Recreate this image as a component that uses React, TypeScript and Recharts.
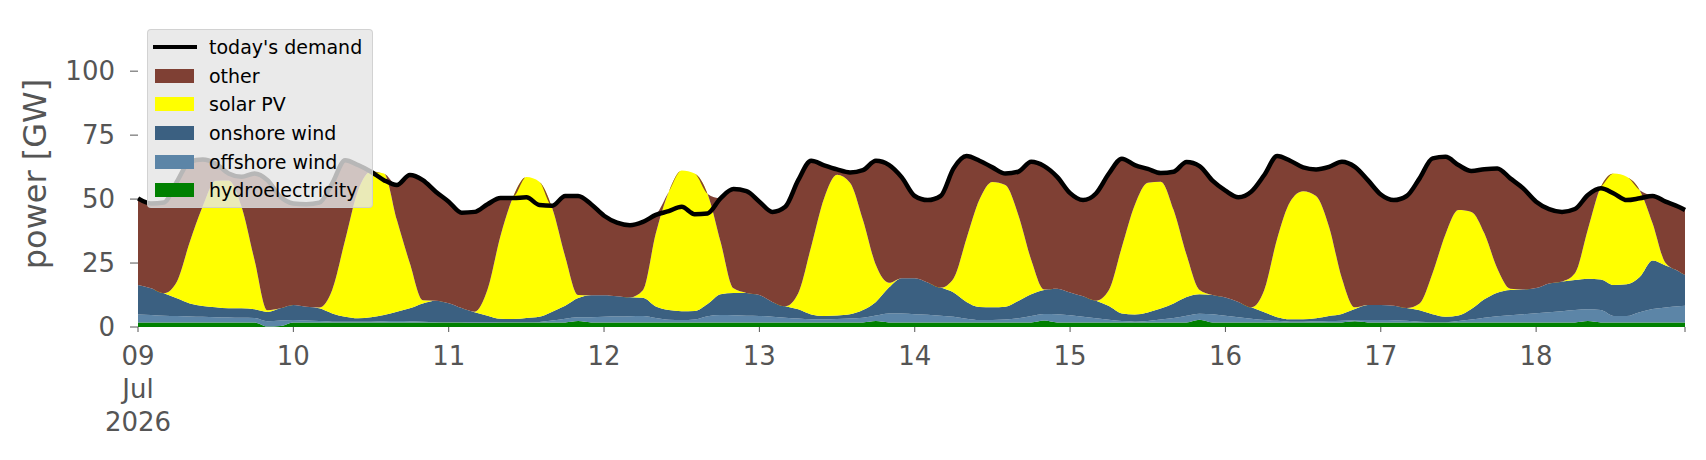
import { ComposedChart, Area, Line, XAxis, YAxis } from 'recharts'

// hourly timeline of 09-18 Jul 2026, sampled every two hours (last point 18 Jul 23:00)
const hours = [...Array.from({ length: 120 }, (_, i) => i * 2), 239]
const dayTicks = [0, 24, 48, 72, 96, 120, 144, 168, 192, 216, 239]
const dayLabels = [['09', 'Jul', '2026'], ['10'], ['11'], ['12'], ['13'], ['14'], ['15'], ['16'], ['17'], ['18'], []]
const yTicks = [0, 25, 50, 75, 100]

// GW
const demand = [
  50.3, 48.3, 48.7, 56.8, 64.6, 65.5, 63.9, 60.0, 58.7, 60.0, 57.4, 50.9,
  48.3, 48.0, 48.6, 56.1, 65.2, 63.3, 60.7, 57.4, 55.5, 59.4, 57.4, 52.9,
  49.0, 44.7, 45.0, 48.0, 50.4, 50.4, 50.7, 47.7, 47.4, 51.2, 51.2, 48.0,
  43.5, 40.8, 39.8, 41.1, 43.8, 45.3, 47.0, 44.1, 44.4, 50.3, 53.9, 53.1,
  49.0, 45.0, 47.0, 57.4, 65.0, 63.2, 61.6, 60.4, 61.3, 65.0, 63.4, 58.5,
  51.2, 49.6, 51.2, 62.0, 66.8, 65.0, 62.4, 60.0, 60.7, 64.6, 62.9, 58.7,
  52.3, 49.6, 52.2, 60.0, 65.8, 63.3, 61.8, 60.2, 60.7, 64.5, 62.9, 57.2,
  53.3, 50.7, 52.9, 59.4, 66.8, 65.0, 62.4, 61.6, 62.6, 64.6, 62.6, 57.4,
  51.8, 49.6, 51.2, 58.1, 65.9, 66.5, 63.3, 61.0, 61.7, 62.0, 58.1, 54.2,
  49.0, 46.1, 45.0, 46.1, 51.6, 54.2, 52.2, 49.6, 50.3, 51.2, 49.0, 47.0,
  45.7,
]

const hydro = [
  1.8, 1.8, 1.8, 1.8, 1.8, 1.8, 1.8, 1.8, 1.8, 1.8, 0.2, 0.4,
  1.8, 1.8, 1.8, 1.8, 1.8, 1.8, 1.8, 1.8, 1.8, 1.8, 1.8, 1.8,
  1.8, 1.8, 1.7, 1.7, 1.8, 1.8, 1.8, 1.8, 1.8, 1.8, 2.3, 1.8,
  1.8, 1.8, 1.8, 1.8, 1.8, 1.8, 1.8, 1.8, 1.8, 1.8, 1.8, 1.8,
  1.8, 1.8, 1.8, 1.8, 1.8, 1.8, 1.8, 1.8, 1.8, 2.3, 1.8, 1.8,
  1.8, 1.8, 1.8, 1.8, 1.8, 1.8, 1.8, 1.8, 1.8, 1.8, 2.5, 1.8,
  1.8, 1.8, 1.8, 1.8, 1.8, 1.8, 1.8, 1.8, 1.8, 1.8, 2.8, 1.8,
  1.8, 1.8, 1.8, 1.8, 1.8, 1.8, 1.8, 1.8, 1.8, 1.8, 2.2, 1.8,
  1.8, 1.8, 1.8, 1.8, 1.8, 1.8, 1.8, 1.8, 1.8, 1.8, 1.8, 1.8,
  1.8, 1.8, 1.8, 1.8, 2.3, 1.8, 1.8, 1.8, 1.8, 1.8, 1.8, 1.8,
  1.8,
]

const offshoreWind = [
  3.1, 2.9, 2.6, 2.5, 2.3, 2.2, 2.0, 1.9, 1.8, 1.7, 2.0, 2.1,
  0.9, 0.7, 0.5, 0.3, 0.3, 0.3, 0.3, 0.4, 0.5, 0.4, 0.3, 0.2,
  0.1, 0.1, 0.1, 0.1, 0.1, 0.1, 0.1, 0.2, 0.7, 1.4, 1.5, 2.0,
  2.2, 2.3, 2.4, 2.5, 1.7, 1.0, 0.9, 1.1, 2.4, 2.9, 2.8, 2.6,
  2.5, 2.2, 1.8, 1.5, 1.2, 1.2, 1.3, 1.5, 1.8, 2.2, 3.5, 3.5,
  3.2, 3.0, 2.6, 2.2, 1.4, 0.9, 0.9, 1.1, 1.6, 2.5, 2.6, 3.2,
  2.8, 2.2, 1.6, 1.0, 0.5, 0.3, 0.5, 1.1, 1.7, 2.6, 2.4, 3.2,
  2.6, 2.0, 1.4, 0.9, 0.6, 0.3, 0.3, 0.4, 0.5, 0.6, 0.4, 0.9,
  0.9, 0.8, 0.6, 0.3, 0.1, 0.1, 0.5, 1.1, 1.8, 2.4, 2.8, 3.2,
  3.6, 4.0, 4.4, 4.8, 4.6, 4.8, 2.5, 2.5, 4.0, 5.2, 5.8, 6.3,
  6.5,
]

const onshoreWind = [
  11.5, 10.4, 8.8, 6.9, 5.1, 4.2, 3.9, 3.6, 3.7, 3.4, 3.7, 4.8,
  5.9, 5.4, 5.0, 3.2, 1.9, 1.3, 1.7, 2.5, 3.7, 5.1, 7.1, 8.3,
  7.4, 5.5, 4.0, 2.6, 1.3, 1.2, 1.6, 2.0, 3.5, 5.1, 7.5, 8.6,
  8.4, 7.9, 7.4, 7.1, 4.5, 3.8, 3.5, 3.4, 4.8, 8.1, 8.7, 8.9,
  8.2, 5.8, 4.5, 3.6, 1.9, 1.3, 1.4, 1.7, 3.0, 5.3, 10.1, 13.8,
  14.1, 12.6, 11.0, 9.5, 6.6, 5.1, 5.0, 5.0, 6.8, 8.5, 9.4, 10.0,
  8.9, 8.0, 6.9, 5.4, 3.0, 2.8, 3.4, 4.3, 5.7, 7.3, 7.6, 7.5,
  7.1, 6.0, 4.5, 3.1, 1.4, 0.9, 0.9, 1.2, 2.0, 2.7, 4.4, 5.9,
  5.9, 5.7, 5.0, 4.4, 3.1, 2.1, 2.2, 4.1, 7.2, 9.2, 9.9, 9.7,
  9.8, 11.2, 11.6, 11.8, 12.0, 12.0, 12.1, 12.4, 13.7, 19.0, 16.4, 13.7,
  12.0,
]

const solarPV = [
  0, 0, 0, 6.5, 24.0, 39.0, 49.5, 50.0, 39.7, 19.3, 0.6, 0,
  0, 0, 0.3, 9.2, 30.0, 50.0, 57.0, 55.3, 35.8, 17.6, 1.3, 0,
  0, 0, 0.2, 10.3, 32.4, 48.0, 55.1, 52.8, 40.4, 19.2, 1.2, 0,
  0, 0, 0, 3.0, 28.6, 46.3, 55.0, 53.7, 43.0, 20.5, 1.8, 0,
  0, 0, 0, 6.3, 26.5, 46.0, 55.0, 51.4, 35.2, 14.4, 1.9, 0,
  0, 0, 0, 5.5, 24.8, 42.0, 49.0, 47.6, 33.6, 13.4, 0.2, 0,
  0, 0, 0, 6.3, 26.0, 42.8, 50.7, 49.6, 36.5, 16.4, 1.7, 0,
  0, 0, 0, 8.7, 30.8, 46.0, 50.1, 47.8, 34.9, 13.9, 0.7, 0,
  0, 0, 0, 2.7, 16.0, 32.3, 41.2, 38.0, 25.8, 9.5, 0.5, 0,
  0, 0, 0, 2.6, 19.3, 36.2, 43.6, 42.0, 34.0, 14.5, 1.0, 0,
  0,
]

const other = [
  33.9, 33.2, 35.5, 39.1, 31.4, 18.3, 6.7, 2.7, 11.7, 33.8, 50.9, 43.6,
  39.7, 40.1, 41.0, 41.6, 31.2, 9.9, 0, 0, 13.7, 34.5, 46.9, 42.6,
  39.8, 37.4, 39.1, 33.5, 15.1, 0, 0, 0, 1.0, 23.7, 38.7, 35.6,
  31.1, 28.8, 28.2, 26.7, 7.2, 0, 0, 0, 0, 17.0, 38.8, 39.8,
  36.5, 35.2, 38.9, 44.2, 33.6, 12.9, 2.1, 4.0, 19.5, 40.8, 46.1, 39.4,
  32.1, 32.2, 35.8, 43.0, 32.2, 15.2, 5.7, 4.5, 16.9, 38.4, 48.2, 43.7,
  38.8, 37.6, 41.9, 45.5, 34.5, 15.6, 5.4, 3.4, 15.0, 36.4, 48.4, 44.7,
  41.8, 40.9, 45.2, 44.9, 32.2, 16.0, 9.3, 10.4, 23.4, 45.6, 54.9, 48.8,
  43.2, 41.3, 43.8, 48.9, 44.9, 30.2, 17.6, 16.0, 25.1, 39.1, 43.1, 39.5,
  33.8, 29.1, 27.2, 25.1, 13.4, 0, 0, 0, 0, 10.7, 24.0, 25.2,
  25.4,
]

const colors = {
  demand: '#000000',
  other: '#7f4034',
  solar: '#ffff00',
  onshore: '#3b6081',
  offshore: '#5c85a7',
  hydro: '#008000',
}

const legendItems = [
  { label: "today's demand", color: colors.demand, line: true },
  { label: 'other', color: colors.other },
  { label: 'solar PV', color: colors.solar },
  { label: 'onshore wind', color: colors.onshore },
  { label: 'offshore wind', color: colors.offshore },
  { label: 'hydroelectricity', color: colors.hydro },
]

const rows = hours.map((hour, i) => ({
  hour,
  demand: demand[i],
  hydro: hydro[i],
  offshore: offshoreWind[i],
  onshore: onshoreWind[i],
  solar: solarPV[i],
  other: other[i],
}))

const FONT = '"DejaVu Sans", sans-serif'
const GREY = '#555555'

function DayTick(props: any) {
  const { x, y, payload } = props
  const lines = dayLabels[dayTicks.indexOf(payload.value)] ?? []
  return (
    <text x={x} y={y} textAnchor="middle" fill={GREY} fontSize={26} fontFamily={FONT}>
      {lines.map((line, k) => (
        <tspan key={k} x={x} dy={k === 0 ? 31 : 33}>
          {line}
        </tspan>
      ))}
    </text>
  )
}

function ChartLegend() {
  return (
    <div
      style={{
        position: 'absolute',
        left: 147,
        top: 29,
        width: 226,
        height: 179,
        boxSizing: 'border-box',
        paddingTop: 3,
        background: 'rgba(229,229,229,0.8)',
        border: '1px solid rgba(204,204,204,0.8)',
        borderRadius: 4,
        fontFamily: FONT,
        fontSize: 19,
        color: '#000',
      }}
    >
      {legendItems.map((item) => (
        <div key={item.label} style={{ display: 'flex', alignItems: 'center', height: 28.6 }}>
          <span
            style={{
              display: 'inline-block',
              marginLeft: item.line ? 5 : 7,
              width: item.line ? 44 : 39,
              height: item.line ? 4 : 14,
              background: item.color,
            }}
          />
          <span style={{ marginLeft: item.line ? 12 : 15, whiteSpace: 'nowrap' }}>{item.label}</span>
        </div>
      ))}
    </div>
  )
}

export default function App() {
  return (
    <div style={{ position: 'absolute', left: 0, top: 0, width: 1706, height: 460, background: '#fff' }}>
      <ComposedChart width={1706} height={460} data={rows} margin={{ top: 20, right: 21, bottom: 0, left: 0 }}>
        <XAxis
          dataKey="hour"
          type="number"
          domain={[0, 239]}
          ticks={dayTicks}
          height={133}
          axisLine={false}
          tickLine={{ stroke: GREY }}
          tickSize={5}
          tick={DayTick}
          interval={0}
        />
        <YAxis
          type="number"
          domain={[0, 120]}
          ticks={yTicks}
          width={138}
          axisLine={false}
          tickLine={{ stroke: GREY }}
          tickSize={8}
          tickMargin={15}
          tick={{ fill: GREY, fontSize: 26, fontFamily: FONT }}
          label={{
            content: () => (
              <text
                x={35}
                y={174}
                transform="rotate(-90 35 174)"
                textAnchor="middle"
                dominantBaseline="central"
                fill={GREY}
                fontSize={32}
                fontFamily={FONT}
              >
                power [GW]
              </text>
            ),
          }}
        />
        <Area dataKey="hydro" stackId="gen" type="monotone" fill={colors.hydro} fillOpacity={1} stroke="none" isAnimationActive={false} />
        <Area dataKey="offshore" stackId="gen" type="monotone" fill={colors.offshore} fillOpacity={1} stroke="none" isAnimationActive={false} />
        <Area dataKey="onshore" stackId="gen" type="monotone" fill={colors.onshore} fillOpacity={1} stroke="none" isAnimationActive={false} />
        <Area dataKey="solar" stackId="gen" type="monotone" fill={colors.solar} fillOpacity={1} stroke="none" isAnimationActive={false} />
        <Area dataKey="other" stackId="gen" type="monotone" fill={colors.other} fillOpacity={1} stroke="none" isAnimationActive={false} />
        <Line dataKey="demand" type="monotone" stroke={colors.demand} strokeWidth={4.5} dot={false} isAnimationActive={false} />
      </ComposedChart>
      <ChartLegend />
    </div>
  )
}
